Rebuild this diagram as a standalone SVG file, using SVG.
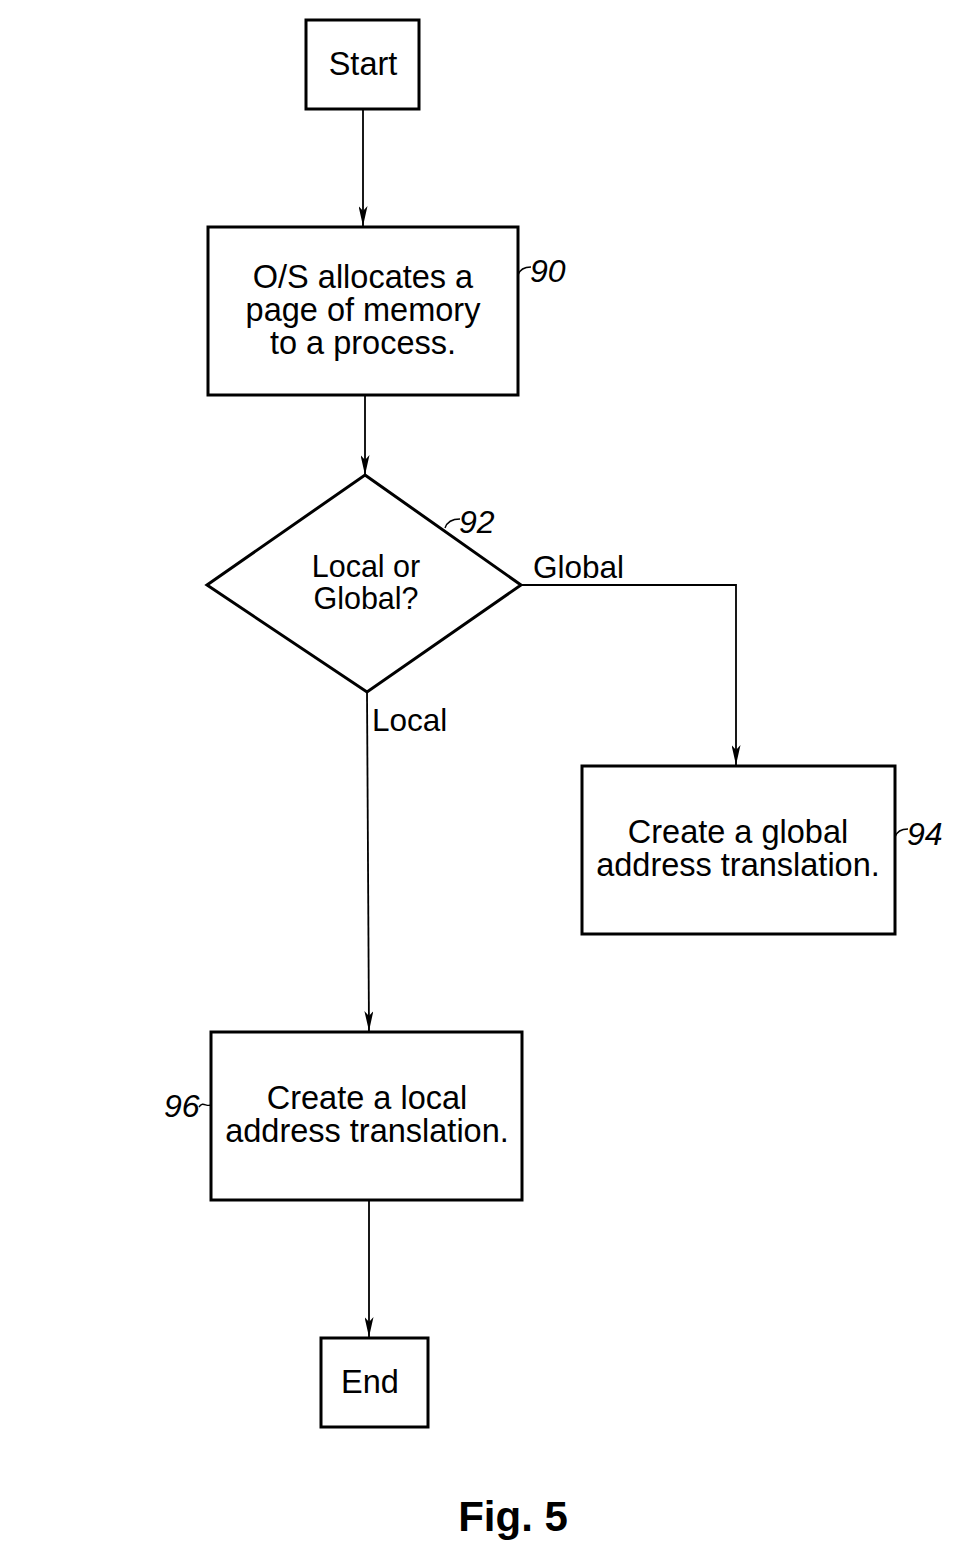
<svg xmlns="http://www.w3.org/2000/svg" width="962" height="1554" viewBox="0 0 962 1554">
<style>
.box{fill:#fff;stroke:#000;stroke-width:3}
.ln{fill:none;stroke:#000;stroke-width:1.8}
.t{font-family:"Liberation Sans",Arial,sans-serif;font-size:32.5px;fill:#000;text-anchor:middle}
.d{font-family:"Liberation Sans",Arial,sans-serif;font-size:30.5px;fill:#000;text-anchor:middle}
.lb{font-family:"Liberation Sans",Arial,sans-serif;font-size:31.5px;fill:#000}
.ref{font-family:"Liberation Sans",Arial,sans-serif;font-size:32px;font-style:italic;fill:#000}
.lead{fill:none;stroke:#000;stroke-width:1.4}
</style>
<defs>
<marker id="ah" viewBox="0 0 20 9" refX="20" refY="4.5" markerWidth="20" markerHeight="9" markerUnits="userSpaceOnUse" orient="auto">
<path d="M0,0 L20,4.5 L0,9 L5,4.5 Z" fill="#000"/>
</marker>
</defs>
<rect width="962" height="1554" fill="#fff"/>
<g id="connectors">
<path class="ln" d="M363,109 V226" marker-end="url(#ah)"/>
<path class="ln" d="M365,395 V475" marker-end="url(#ah)"/>
<path class="ln" d="M521,585 H736 V765" marker-end="url(#ah)"/>
<path class="ln" d="M367,692 L369,1031" marker-end="url(#ah)"/>
<path class="ln" d="M369,1200 V1337" marker-end="url(#ah)"/>
<text class="lb" x="533" y="578">Global</text>
<text class="lb" x="372" y="731">Local</text>
</g>
<g id="start">
<rect class="box" x="306" y="20" width="113" height="89"/>
<text class="t" x="363" y="75">Start</text>
</g>
<g id="n90">
<rect class="box" x="208" y="227" width="310" height="168"/>
<text class="t" x="363" y="288">O/S allocates a</text>
<text class="t" x="363" y="321">page of memory</text>
<text class="t" x="363" y="354">to a process.</text>
<path class="lead" d="M518,275 C520,269 524,267 531,267"/>
<text class="ref" x="530" y="282">90</text>
</g>
<g id="n92">
<path class="box" d="M365,475 L521,585 L367,692 L207,585 Z"/>
<text class="d" x="366" y="577">Local or</text>
<text class="d" x="366" y="609">Global?</text>
<path class="lead" d="M445,528 C447,522 452,519 460,519"/>
<text class="ref" x="459" y="533">92</text>
</g>
<g id="n94">
<rect class="box" x="582" y="766" width="313" height="168"/>
<text class="t" x="738" y="843">Create a global</text>
<text class="t" x="738" y="876">address translation.</text>
<path class="lead" d="M895,837 C897,831 901,829 908,829"/>
<text class="ref" x="907" y="845">94</text>
</g>
<g id="n96">
<rect class="box" x="211" y="1032" width="311" height="168"/>
<text class="t" x="367" y="1109">Create a local</text>
<text class="t" x="367" y="1142">address translation.</text>
<path class="lead" d="M199,1107 C203,1101 206,1107 211,1105"/>
<text class="ref" x="164" y="1117">96</text>
</g>
<g id="end">
<rect class="box" x="321" y="1338" width="107" height="89"/>
<text class="t" x="370" y="1393">End</text>
</g>
<text x="513" y="1531" font-family="Liberation Sans,Arial,sans-serif" font-size="42" font-weight="bold" text-anchor="middle">Fig. 5</text>
</svg>
